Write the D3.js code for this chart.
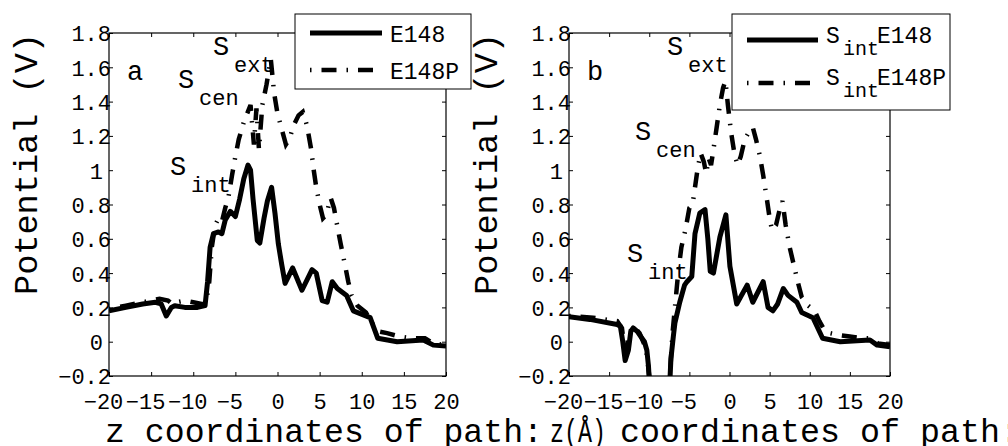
<!DOCTYPE html>
<html>
<head>
<meta charset="utf-8">
<script src="https://cdn.jsdelivr.net/npm/d3@7"></script>
<style>
  body { margin: 0; background: #fff; }
  svg { display: block; }
</style>
</head>
<body>
<div id="chart"></div>
<script>
// potential along the pore axis
var xTicks = [-20, -15, -10, -5, 0, 5, 10, 15, 20];
var xTickLabels = ["\u221220", "\u221215", "\u221210", "\u22125", "0", "5", "10", "15", "20"];
var yTicks = [-0.2, 0, 0.2, 0.4, 0.6, 0.8, 1, 1.2, 1.4, 1.6, 1.8];
var yTickLabels = ["\u22120.2", "0", "0.2", "0.4", "0.6", "0.8", "1", "1.2", "1.4", "1.6", "1.8"];

// panel a : E148 (solid)
var e148A = [[-20,0.18],[-18,0.20],[-16,0.22],[-14.5,0.23],[-13.8,0.22],[-13.2,0.15],[-12.6,0.20],[-12.2,0.21],
  [-11,0.20],[-9.5,0.20],[-8.6,0.21],[-8.3,0.35],[-8.0,0.55],[-7.6,0.63],[-7.0,0.64],[-6.6,0.63],[-6.2,0.71],
  [-5.6,0.76],[-5.0,0.73],[-4.5,0.83],[-4.0,0.95],[-3.5,1.03],[-3.2,1.0],[-2.9,0.83],[-2.4,0.59],[-2.1,0.575],
  [-1.6,0.72],[-1.2,0.82],[-0.7,0.90],[-0.3,0.75],[0.1,0.57],[0.5,0.45],[0.9,0.34],[1.8,0.43],[2.9,0.30],
  [4.1,0.42],[4.6,0.40],[5.3,0.24],[5.9,0.23],[6.5,0.35],[7.1,0.31],[8.2,0.27],[9.0,0.18],[11.0,0.14],
  [11.9,0.02],[14.2,0.0],[17.3,0.01],[18.5,-0.02],[20,-0.025]];
// panel a : E148P (dash-dot)
var e148pA = [[-20,0.19],[-18,0.21],[-16,0.23],[-15,0.24],[-14,0.25],[-13,0.24],[-12.5,0.22],[-12,0.23],
  [-11,0.24],[-10,0.23],[-9,0.22],[-8.5,0.22],[-8.1,0.35],[-7.8,0.55],[-7.4,0.68],[-7.0,0.72],[-6.6,0.70],
  [-6.2,0.78],[-5.8,0.85],[-5.4,0.97],[-5.0,1.08],[-4.6,1.18],[-4.3,1.23],[-4.0,1.28],[-3.6,1.33],[-3.2,1.38],
  [-2.8,1.15],[-2.5,1.36],[-2.2,1.12],[-1.8,1.38],[-1.3,1.50],[-0.8,1.65],[-0.4,1.45],[0.0,1.33],[0.5,1.24],
  [1.0,1.15],[1.4,1.18],[1.9,1.26],[2.5,1.32],[3.0,1.34],[3.5,1.26],[4.0,1.12],[4.3,1.0],[4.6,0.9],[5.0,0.8],
  [5.4,0.72],[5.8,0.74],[6.3,0.84],[6.7,0.78],[7.0,0.70],[7.5,0.57],[8.0,0.45],[8.4,0.35],[8.8,0.27],
  [9.5,0.21],[10.5,0.17],[11.2,0.11],[12.0,0.06],[13.0,0.05],[14.5,0.03],[16,0.02],[17.5,0.02],[18.5,-0.01],[20,-0.02]];

// panel b : S_int E148 (solid)
var e148B = [[-20,0.145],[-17.4,0.13],[-14.0,0.10],[-13.6,0.09],[-13.3,0.0],[-13.0,-0.11],[-12.6,-0.05],
  [-12.3,0.06],[-12.0,0.08],[-11.5,0.06],[-11.2,0.04],[-10.6,0.0],[-10.3,-0.05],[-10.1,-0.14],[-9.9,-0.3],
  [-7.5,-0.3],[-7.3,-0.1],[-7.0,0.03],[-6.8,0.11],[-6.2,0.23],[-5.6,0.33],[-5.3,0.35],[-4.7,0.38],[-4.3,0.63],
  [-3.7,0.75],[-3.05,0.77],[-2.7,0.6],[-2.4,0.41],[-2.0,0.40],[-1.2,0.61],[-0.45,0.74],[0.05,0.44],[0.9,0.22],
  [2.2,0.33],[2.9,0.23],[4.2,0.35],[4.8,0.20],[5.4,0.18],[6.0,0.22],[6.7,0.31],[7.3,0.27],[8.4,0.23],
  [9.0,0.17],[10.4,0.14],[11.6,0.02],[13.8,0.0],[17.5,0.01],[18.4,-0.02],[20,-0.03]];
// panel b : S_int E148P (dash-dot)
var e148pB = [[-20,0.15],[-17,0.14],[-14,0.12],[-13.4,0.08],[-13,-0.08],[-12.5,0.05],[-12,0.09],[-11.2,0.05],
  [-10.4,-0.04],[-10,-0.2],[-9.9,-0.3],[-7.6,-0.3],[-7.4,-0.18],[-7.1,0.05],[-6.8,0.2],[-6.4,0.4],[-6.0,0.55],
  [-5.5,0.65],[-5.0,0.78],[-4.6,0.80],[-4.3,0.9],[-4.0,1.0],[-3.6,1.1],[-3.2,1.05],[-2.9,0.98],[-2.6,1.07],
  [-2.3,1.03],[-2.0,1.12],[-1.6,1.25],[-1.2,1.38],[-0.8,1.48],[-0.5,1.52],[-0.2,1.38],[0.2,1.22],[0.6,1.10],
  [1.0,1.03],[1.4,1.08],[1.9,1.18],[2.4,1.22],[2.9,1.25],[3.3,1.18],[3.8,1.08],[4.2,0.97],[4.6,0.85],[5.0,0.72],
  [5.3,0.65],[5.8,0.68],[6.3,0.78],[6.6,0.82],[7.0,0.68],[7.5,0.55],[8.0,0.45],[8.5,0.35],[9.0,0.26],[9.8,0.21],
  [10.6,0.18],[11.2,0.12],[11.8,0.07],[12.5,0.05],[13.5,0.04],[15,0.03],[16.5,0.02],[17.5,0.02],[18.5,-0.01],[20,-0.02]];

var FONT = "'Liberation Mono', 'DejaVu Sans Mono', monospace";
var DASHDOT = "1.5,10,15,10";

var svg = d3.select("#chart").append("svg")
    .attr("width", 1008)
    .attr("height", 446)
    .style("font-family", FONT);

svg.append("rect").attr("width", 1008).attr("height", 446).attr("fill", "#fff");

var plotTop = 33, plotBottom = 376;

function drawPanel(p) {
    var xa = d3.scaleLinear().domain([-20, 20]).range([p.left, p.right]);
    var ya = d3.scaleLinear().domain([-0.2, 1.8]).range([plotBottom, plotTop]);
    var g = svg.append("g");

    //clip to the plot box
    g.append("clipPath").attr("id", "clip" + p.name)
        .append("rect")
        .attr("x", p.left).attr("y", plotTop)
        .attr("width", p.right - p.left).attr("height", plotBottom - plotTop);

    //y axis label
    g.append("text")
        .attr("transform", "translate(" + p.ylabX + ",164) rotate(-90)")
        .attr("text-anchor", "middle")
        .attr("textLength", 262)
        .attr("lengthAdjust", "spacingAndGlyphs")
        .style("font-size", "33px")
        .text("Potential (V)");

    //ticks, inside the box on all four sides
    var xb = g.append("g").attr("transform", "translate(0," + plotBottom + ")")
        .call(d3.axisBottom(xa).tickValues(xTicks).tickSizeInner(-4).tickSizeOuter(0).tickPadding(17)
            .tickFormat(function(d, i) { return xTickLabels[i]; }));
    xb.selectAll("text")
        .style("font-size", "22px").style("font-family", FONT).attr("fill", "#000")
        .attr("dx", function(d, i) { return xTickLabels[i].charAt(0) == "\u2212" ? -6 : 0; });
    g.append("g").attr("transform", "translate(0," + plotTop + ")")
        .call(d3.axisTop(xa).tickValues(xTicks).tickSizeInner(-4).tickSizeOuter(0).tickFormat(""));
    var yl = g.append("g").attr("transform", "translate(" + p.left + ",0)")
        .call(d3.axisLeft(ya).tickValues(yTicks).tickSizeInner(-4).tickSizeOuter(0).tickPadding(-2)
            .tickFormat(function(d, i) { return yTickLabels[i]; }));
    yl.selectAll("text")
        .style("font-size", "22px").style("font-family", FONT).attr("fill", "#000")
        .attr("dy", "0.36em")
        .attr("dx", function(d, i) { return yTickLabels[i].length == 1 ? -8 : 0; });
    g.append("g").attr("transform", "translate(" + p.right + ",0)")
        .call(d3.axisRight(ya).tickValues(yTicks).tickSizeInner(-4).tickSizeOuter(0).tickFormat(""));
    g.selectAll(".domain").remove();
    g.selectAll(".tick line").attr("stroke", "#000");

    g.append("rect")
        .attr("x", p.left).attr("y", plotTop)
        .attr("width", p.right - p.left).attr("height", plotBottom - plotTop)
        .attr("fill", "none").attr("stroke", "#000").attr("stroke-width", 1.2);

    //panel letter and site labels
    g.append("text").attr("x", p.left + 18).attr("y", 80).style("font-size", "27px").text(p.name);
    p.sites.forEach(function(s) {
        g.append("text").attr("x", s[1]).attr("y", s[2]).style("font-size", "27px").text("S");
        g.append("text").attr("x", s[1] + 21).attr("y", s[2] + 17).style("font-size", "22px").text(s[0]);
    });

    var line = d3.line()
        .x(function(d) { return xa(d[0]); })
        .y(function(d) { return ya(d[1]); });

    var curves = g.append("g").attr("clip-path", "url(#clip" + p.name + ")");
    curves.append("path")
        .attr("d", line(p.solid))
        .attr("fill", "none").attr("stroke", "#000")
        .attr("stroke-width", 5).attr("stroke-linejoin", "round");
    curves.append("path")
        .attr("d", line(p.dashed))
        .attr("fill", "none").attr("stroke", "#000")
        .attr("stroke-width", 4.5)
        .style("stroke-dasharray", DASHDOT);
}

drawPanel({
    name: "a", left: 109, right: 446, ylabX: 37,
    solid: e148A, dashed: e148pA,
    sites: [["ext", 213, 55], ["cen", 178, 88], ["int", 170, 175]]
});
drawPanel({
    name: "b", left: 569, right: 890, ylabX: 497,
    solid: e148B, dashed: e148pB,
    sites: [["ext", 667, 55], ["cen", 635, 140], ["int", 627, 262]]
});

//x axis labels (panel b's label is partly hidden behind panel a's in the figure)
svg.append("text").attr("x", 105).attr("y", 442).style("font-size", "33px")
    .attr("textLength", 438).attr("lengthAdjust", "spacingAndGlyphs")
    .text("z coordinates of path:");
svg.append("text").attr("x", 550).attr("y", 442).style("font-size", "33px")
    .attr("textLength", 56).attr("lengthAdjust", "spacingAndGlyphs")
    .text("z(\u00c5)");
svg.append("text").attr("x", 620).attr("y", 442).style("font-size", "33px")
    .attr("textLength", 500).attr("lengthAdjust", "spacingAndGlyphs")
    .text("coordinates of path: z(\u00c5)");

//legend a
var la = svg.append("g");
la.append("rect").attr("x", 295).attr("y", 14).attr("width", 176).attr("height", 75)
    .attr("fill", "#fff").attr("stroke", "#000").attr("stroke-width", 1);
la.append("line").attr("x1", 310).attr("x2", 382).attr("y1", 33).attr("y2", 33)
    .attr("stroke", "#000").attr("stroke-width", 5);
la.append("line").attr("x1", 310).attr("x2", 382).attr("y1", 70).attr("y2", 70)
    .attr("stroke", "#000").attr("stroke-width", 4.5).style("stroke-dasharray", DASHDOT);
la.append("text").attr("x", 390).attr("y", 42).style("font-size", "23px").text("E148");
la.append("text").attr("x", 390).attr("y", 79).style("font-size", "23px").text("E148P");

//legend b
var lb = svg.append("g");
lb.append("rect").attr("x", 732).attr("y", 14).attr("width", 218).attr("height", 96)
    .attr("fill", "#fff").attr("stroke", "#000").attr("stroke-width", 1);
lb.append("line").attr("x1", 747).attr("x2", 818).attr("y1", 40).attr("y2", 40)
    .attr("stroke", "#000").attr("stroke-width", 5);
lb.append("line").attr("x1", 747).attr("x2", 818).attr("y1", 83).attr("y2", 83)
    .attr("stroke", "#000").attr("stroke-width", 4.5).style("stroke-dasharray", DASHDOT);
[["E148", 43], ["E148P", 85]].forEach(function(r) {
    lb.append("text").attr("x", 826).attr("y", r[1]).style("font-size", "23px").text("S");
    lb.append("text").attr("x", 843).attr("y", r[1] + 12).style("font-size", "20px").text("int");
    lb.append("text").attr("x", 877).attr("y", r[1]).style("font-size", "23px").text(r[0]);
});
</script>
</body>
</html>
